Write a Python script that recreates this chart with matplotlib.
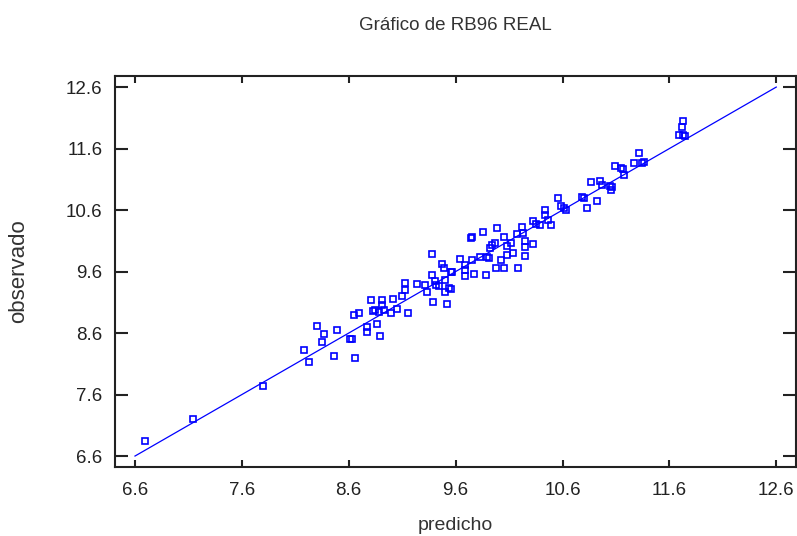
import numpy as np
import matplotlib
matplotlib.use("Agg")
import matplotlib.pyplot as plt

plt.rcParams['font.family'] = ['Liberation Sans', 'DejaVu Sans']

predicho = [6.69, 7.14, 7.80, 8.18, 8.23, 8.30, 8.37, 8.35, 8.49, 8.46,
            8.61, 8.63, 8.66, 8.65, 8.70, 8.77, 8.77, 8.81, 8.83, 8.85,
            8.86, 8.89, 8.91, 8.91, 8.88, 8.93, 9.01, 9.00, 9.05, 9.10,
            9.13, 9.13, 9.15, 9.24, 9.31, 9.33, 9.38, 9.39, 9.41, 9.42,
            9.44, 9.38, 9.47, 9.49, 9.50, 9.50, 9.52, 9.54, 9.56, 9.56,
            9.57, 9.64, 9.69, 9.69, 9.69, 9.74, 9.75, 9.77, 9.75, 9.83,
            9.86, 9.88, 9.89, 9.91, 9.92, 9.94, 9.97, 9.99, 9.98, 10.02,
            10.05, 10.05, 10.08, 10.08, 10.12, 10.14, 10.17, 10.18, 10.22, 10.23,
            10.25, 10.25, 10.25, 10.32, 10.32, 10.35, 10.39, 10.44, 10.44, 10.46,
            10.49, 10.56, 10.59, 10.61, 10.63, 10.78, 10.80, 10.83, 10.92, 10.87,
            10.95, 10.97, 11.04, 11.06, 11.05, 11.09, 11.15, 11.17, 11.18, 11.27,
            11.32, 11.34, 11.36, 11.69, 11.72, 11.73, 11.73, 11.75]
observado = [6.85, 7.20, 7.74, 8.33, 8.13, 8.71, 8.58, 8.46, 8.65, 8.23,
             8.51, 8.50, 8.20, 8.89, 8.93, 8.70, 8.61, 9.14, 8.96, 8.97,
             8.74, 8.55, 9.14, 9.06, 8.95, 8.97, 9.16, 8.92, 8.99, 9.20,
             9.41, 9.30, 8.92, 9.40, 9.38, 9.27, 9.55, 9.10, 9.45, 9.38,
             9.37, 9.88, 9.73, 9.65, 9.47, 9.27, 9.07, 9.33, 9.32, 9.60,
             9.59, 9.80, 9.71, 9.52, 9.62, 10.15, 10.17, 9.56, 9.79, 9.83,
             10.25, 9.55, 9.84, 9.82, 9.98, 10.03, 10.07, 10.31, 9.65, 9.79,
             10.17, 9.65, 10.02, 9.87, 10.06, 9.90, 10.21, 9.66, 10.33, 10.22,
             10.10, 10.00, 9.85, 10.43, 10.04, 10.38, 10.36, 10.60, 10.52, 10.44,
             10.35, 10.80, 10.66, 10.64, 10.60, 10.81, 10.80, 10.63, 10.74, 11.05,
             11.08, 11.01, 10.99, 10.98, 10.93, 11.32, 11.28, 11.27, 11.17, 11.36,
             11.53, 11.37, 11.38, 11.82, 11.95, 12.05, 11.82, 11.80]

ticks = [6.6, 7.6, 8.6, 9.6, 10.6, 11.6, 12.6]
linea = [6.6, 12.6]

fig = plt.figure(figsize=(7.97, 5.36), dpi=100)
ax = fig.add_axes([115 / 797, 1 - 466.5 / 536, 680.5 / 797, 390.5 / 536])

ax.plot(linea, linea, color='#0000ff', linewidth=0.9)
ax.plot(predicho, observado, 's', markersize=4.3, markerfacecolor='none',
        markeredgecolor='#0000ff', markeredgewidth=1.2)

ax.set_xlim(6.413, 12.78)
ax.set_ylim(6.43, 12.78)
ax.set_xticks(ticks)
ax.set_yticks(ticks)
ax.set_xticklabels([str(t) for t in ticks])
ax.set_yticklabels([str(t) for t in ticks])

ax.tick_params(axis='x', direction='in', length=5, width=1.5, top=True,
               labelsize=13.5, pad=11, colors='#222222')
ax.tick_params(axis='y', direction='in', length=9.5, width=1.5, right=True,
               labelsize=13.5, pad=9, colors='#222222')
for s in ax.spines.values():
    s.set_linewidth(1.5)
    s.set_color('#222222')

ax.set_xlabel('predicho', fontsize=14, color='#333333', va='center')
ax.set_ylabel('observado', fontsize=16, color='#333333', va='center')
ax.xaxis.set_label_coords(0.5, -0.15)
ax.yaxis.set_label_coords(-0.142, 0.5)

fig.text(455.5 / 797, 1 - 26 / 536, 'Gráfico de RB96 REAL', ha='center',
         va='center', fontsize=13.5, color='#333333')

fig.savefig('out.png', dpi=100)
